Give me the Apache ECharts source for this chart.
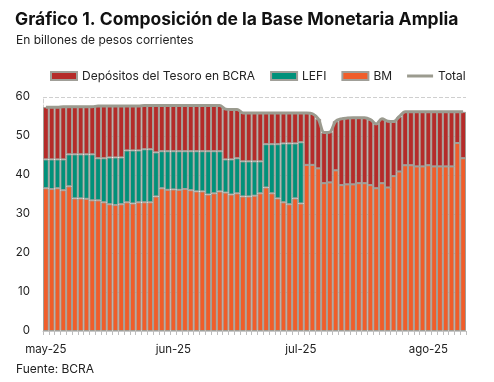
<!DOCTYPE html>
<html>
<head>
<meta charset="utf-8">
<script src="https://cdn.jsdelivr.net/npm/echarts@6/dist/echarts.min.js"></script>
<style>
html,body{margin:0;padding:0;background:#fff;}
#chart{width:494px;height:382px;}
</style>
</head>
<body>
<div id="chart"></div>
<script>
// Tick labels shown every 22nd business day (index 0, 22, 44, 66)
const tickLabels = {0: 'may-25', 22: 'jun-25', 44: 'jul-25', 66: 'ago-25'};

// BM (billones de pesos)
const bm = [
  36.6, 36.4, 36.6, 36.1, 37.1, 34.0, 34.0, 33.9, 33.5, 33.5,
  33.0, 32.5, 32.3, 32.5, 33.0, 32.7, 33.0, 33.0, 33.0, 34.5,
  36.6, 36.2, 36.3, 36.2, 36.4, 36.1, 35.8, 35.8, 35.0, 35.3,
  35.8, 35.5, 35.0, 35.3, 34.5, 34.5, 34.7, 35.3, 36.8, 35.3,
  34.0, 33.0, 32.5, 34.0, 32.7, 42.6, 42.6, 41.7, 37.9, 38.1,
  41.2, 37.4, 37.6, 37.6, 37.9, 37.9, 37.4, 36.6, 37.9, 36.8,
  39.7, 40.9, 42.5, 42.5, 42.2, 42.2, 42.5, 42.2, 42.2, 42.2,
  42.2, 48.2, 44.3
];

// LEFI
const lefi = [
  7.4, 7.6, 7.4, 7.9, 8.2, 11.3, 11.3, 11.4, 11.8, 10.8,
  11.3, 12.0, 12.2, 12.0, 13.3, 13.6, 13.3, 13.6, 13.6, 11.3,
  9.5, 9.9, 9.8, 9.9, 9.7, 10.0, 10.3, 10.3, 11.1, 10.8,
  10.3, 8.5, 9.0, 9.0, 9.0, 9.0, 8.8, 8.2, 11.1, 12.6,
  13.9, 15.1, 15.6, 14.1, 15.7, 0, 0, 0, 0, 0,
  0, 0, 0, 0, 0, 0, 0, 0, 0, 0,
  0, 0, 0, 0, 0, 0, 0, 0, 0, 0,
  0, 0, 0
];

// Depósitos del Tesoro en BCRA
const depositos = [
  13.4, 13.4, 13.4, 13.5, 12.2, 12.2, 12.2, 12.2, 12.2, 13.4,
  13.4, 13.2, 13.2, 13.2, 11.4, 11.4, 11.4, 11.2, 11.2, 12.0,
  11.7, 11.7, 11.7, 11.7, 11.7, 11.7, 11.7, 11.7, 11.7, 11.7,
  11.7, 12.9, 12.8, 12.5, 12.4, 12.4, 12.4, 12.4, 8.0, 8.0,
  8.0, 7.8, 7.8, 7.8, 7.5, 13.3, 13.1, 12.7, 13.0, 12.9,
  12.6, 17.0, 17.0, 17.1, 16.8, 16.8, 16.8, 16.5, 16.5, 17.0,
  14.0, 14.1, 13.7, 13.7, 14.0, 14.0, 13.7, 14.0, 14.0, 14.0,
  14.0, 8.0, 11.9
];

// Total
const total = [
  57.4, 57.4, 57.4, 57.5, 57.5, 57.5, 57.5, 57.5, 57.5, 57.7,
  57.7, 57.7, 57.7, 57.7, 57.7, 57.7, 57.7, 57.8, 57.8, 57.8,
  57.8, 57.8, 57.8, 57.8, 57.8, 57.8, 57.8, 57.8, 57.8, 57.8,
  57.8, 56.9, 56.8, 56.8, 55.9, 55.9, 55.9, 55.9, 55.9, 55.9,
  55.9, 55.9, 55.9, 55.9, 55.9, 55.9, 55.7, 54.4, 50.9, 51.0,
  53.8, 54.4, 54.6, 54.7, 54.7, 54.7, 54.2, 53.1, 54.4, 53.8,
  53.7, 55.0, 56.2, 56.2, 56.2, 56.2, 56.2, 56.2, 56.2, 56.2,
  56.2, 56.2, 56.2
];

const categories = bm.map((_, i) => tickLabels[i] || ' '.repeat(i + 1));

const font = 'Inter, "Noto Sans", sans-serif';
const chart = echarts.init(document.getElementById('chart'), null, {renderer: 'canvas'});
const barStyle = (c) => ({color: c, borderColor: '#a09f98', borderWidth: 1});

chart.setOption({
  animation: false,
  backgroundColor: '#fff',
  title: [
    {text: 'Gráfico 1. Composición de la Base Monetaria Amplia', left: 10, top: 6,
     textStyle: {fontFamily: font, fontSize: 17.5, fontWeight: 'bold', color: '#111'}},
    {text: 'En billones de pesos corrientes', left: 11, top: 29,
     textStyle: {fontFamily: font, fontSize: 12, fontWeight: 'normal', color: '#222'}},
    {text: 'Fuente: BCRA', left: 11, top: 358,
     textStyle: {fontFamily: font, fontSize: 12, fontWeight: 'normal', color: '#222'}}
  ],
  legend: {
    left: 45, top: 65, itemWidth: 26, itemHeight: 8, itemGap: 15,
    textStyle: {fontFamily: font, fontSize: 12, color: '#222'},
    data: [
      {name: 'Depósitos del Tesoro en BCRA', icon: 'rect'},
      {name: 'LEFI', icon: 'rect'},
      {name: 'BM', icon: 'rect'},
      {name: 'Total', icon: 'path://M0,0L26,0L26,3L0,3Z'}
    ]
  },
  grid: {left: 43, right: 28, top: 97, bottom: 51},
  xAxis: {
    type: 'category',
    data: categories,
    boundaryGap: true,
    axisLine: {lineStyle: {color: '#c8c8c8'}},
    axisTick: {show: true, interval: 0, length: 4, lineStyle: {color: '#bdbdbd'}},
    axisLabel: {
      interval: (i) => tickLabels[i] !== undefined,
      formatter: (v, i) => tickLabels[i] || '',
      margin: 13, fontFamily: font, fontSize: 11.5, color: '#222'
    }
  },
  yAxis: {
    type: 'value', min: 0, max: 60, interval: 10,
    axisLine: {show: true, lineStyle: {color: '#cfcfcf', type: 'dashed'}},
    axisTick: {show: false},
    splitLine: {lineStyle: {color: '#cfcfcf', type: 'dashed'}},
    axisLabel: {margin: 13, fontFamily: font, fontSize: 11.5, color: '#222'}
  },
  series: [
    {name: 'BM', type: 'bar', stack: 'bma', barCategoryGap: '0%', data: bm, itemStyle: barStyle('#F05D2A')},
    {name: 'LEFI', type: 'bar', stack: 'bma', barCategoryGap: '0%', data: lefi, itemStyle: barStyle('#00917A')},
    {name: 'Depósitos del Tesoro en BCRA', type: 'bar', stack: 'bma', barCategoryGap: '0%', data: depositos, itemStyle: barStyle('#B52B29')},
    {name: 'Total', type: 'line', data: total, symbol: 'none', smooth: 0.3,
     lineStyle: {color: '#9b9b8f', width: 3}, itemStyle: {color: '#9b9b8f'}, z: 5}
  ]
});
</script>
</body>
</html>
